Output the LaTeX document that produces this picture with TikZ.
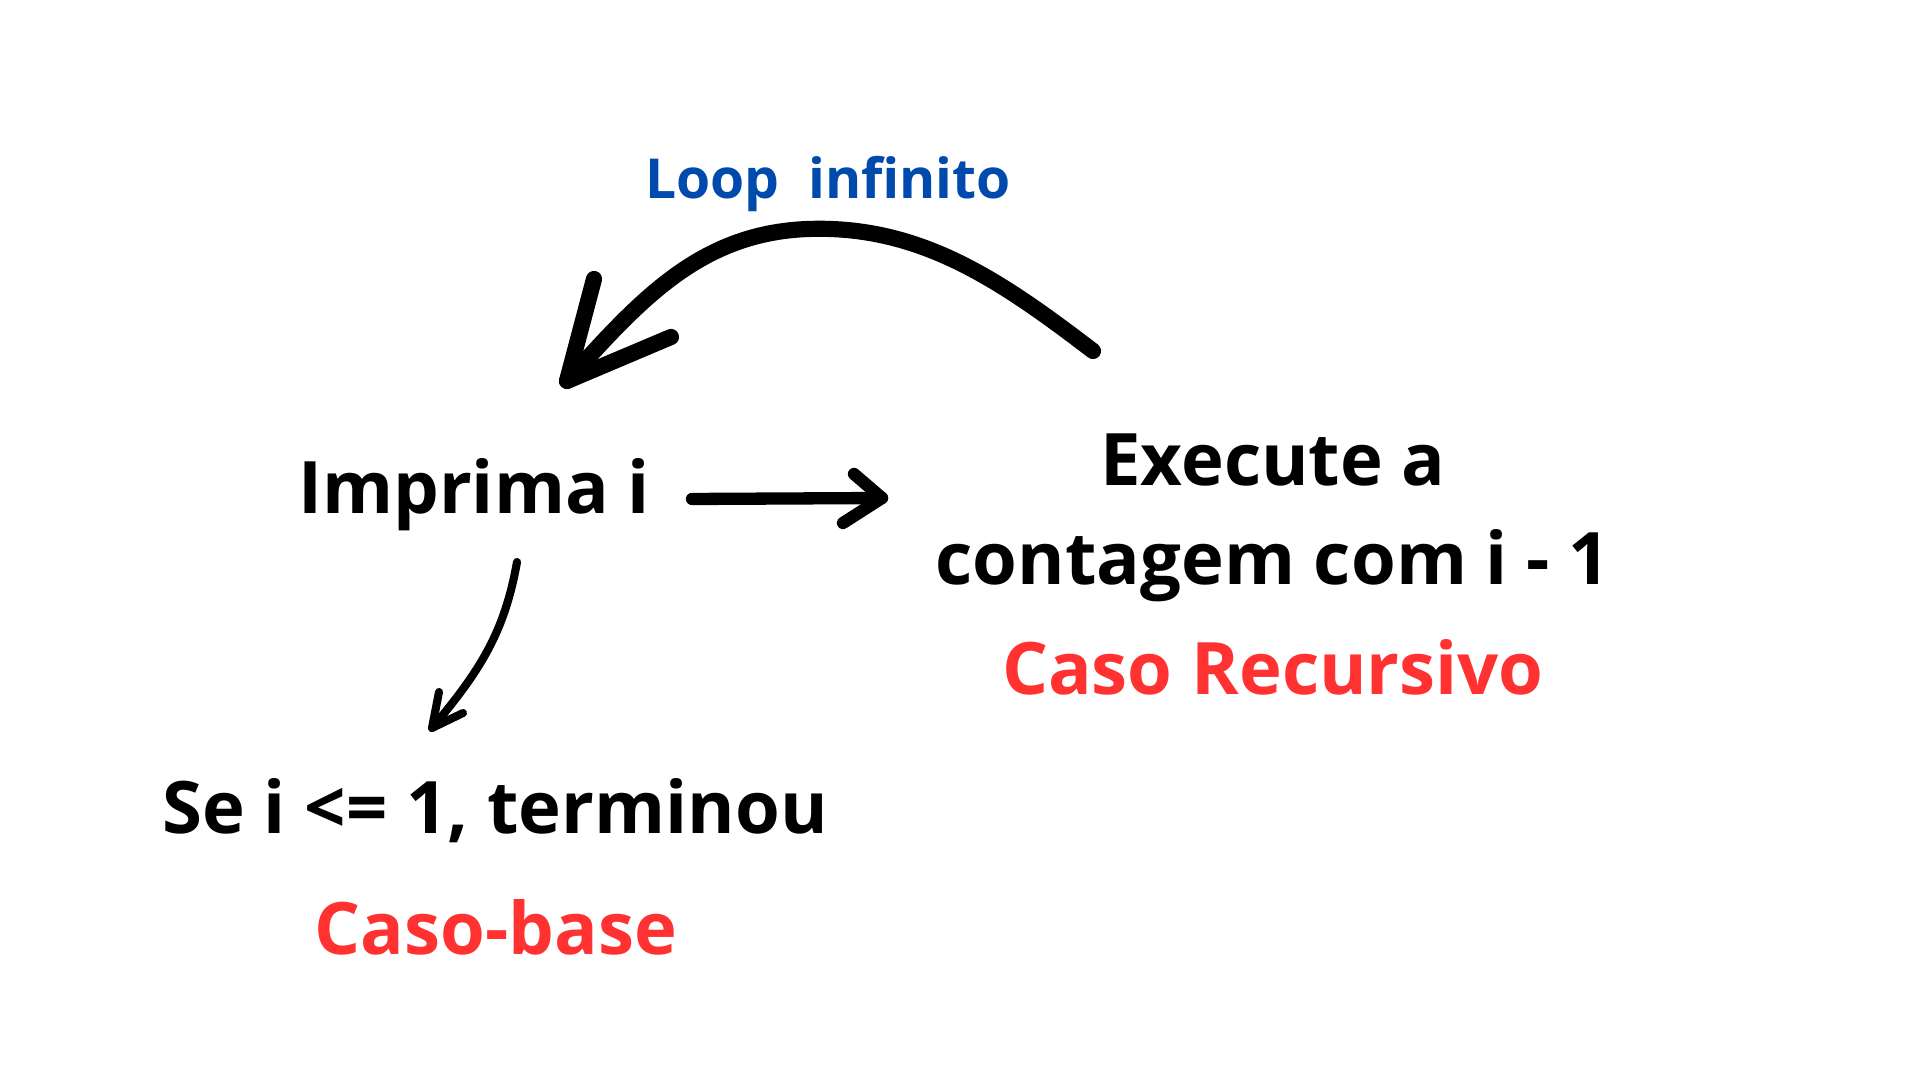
\documentclass[tikz,border=0pt]{standalone}
\usepackage{fontspec}
\setmainfont{Open Sans}
\usetikzlibrary{positioning,arrows.meta}
\definecolor{LoopBlue}{HTML}{004AAD}
\definecolor{CaseRed}{HTML}{FF3131}

\begin{document}
\begin{tikzpicture}[
  txt/.style={anchor=base, inner sep=0pt, font=\fontsize{20.6}{25}\selectfont\bfseries},
  casetxt/.style={txt, text=CaseRed},
  hand/.style={draw=black, line cap=round, line join=round}]
  \useasboundingbox (0,0) rectangle (19.2,10.8);
  \node[txt, font=\fontsize{15.7}{19}\selectfont\bfseries, text=LoopBlue] (loop) at (8.28,8.81) {Loop\ \ infinito};
  \node[txt] (imprima) at (4.74,5.66) {Imprima i};
  \node[txt] (exec1) at (12.73,5.94) {Execute a};
  \node[txt] (exec2) at (12.73,4.95) {contagem com i - 1};
  \node[casetxt] (recur) at (12.73,3.85) {Caso Recursivo};
  \node[txt] (base) at (4.95,2.46) {Se i <= 1, terminou};
  \node[casetxt] (basecase) at (4.96,1.25) {Caso-base};
  % loop arrow
  \coordinate (loopS) at (10.93,7.29);
  \coordinate (loopT) at (5.67,6.99);
  \draw[hand, line width=4.6pt] (loopS) .. controls (10.0,8.0) and (9.2,8.55) .. (8.08,8.51)
    .. controls (7.0,8.47) and (6.4,7.8) .. (loopT);
  \draw[hand, line width=4.6pt] (5.94,8.01) -- (loopT) -- (6.71,7.43);
  % to recursive case
  \coordinate (recS) at (6.92,5.81);
  \coordinate (recT) at (8.82,5.82);
  \draw[hand, line width=3.5pt] (recS) -- (recT);
  \draw[hand, line width=3.5pt] (8.54,6.06) -- (recT) -- (8.43,5.57);
  % to base case
  \coordinate (baseS) at (5.17,5.18);
  \coordinate (baseT) at (4.32,3.52);
  \draw[hand, line width=2.3pt] (baseS) to[out=-100,in=50] (baseT);
  \draw[hand, line width=2.3pt] (4.39,3.88) -- (baseT) -- (4.63,3.67);
\end{tikzpicture}
\end{document}
